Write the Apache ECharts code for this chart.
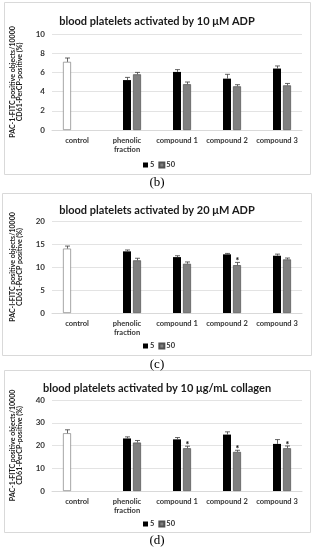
<!DOCTYPE html>
<html>
<head>
<meta charset="utf-8">
<script src="https://cdn.jsdelivr.net/npm/echarts@6/dist/echarts.min.js"></script>
<style>
html,body{margin:0;padding:0;background:#fff;}
#chart{width:314px;height:550px;}
</style>
</head>
<body>
<div id="chart"></div>
<script>
// ---------- data ----------
const categories = ['control', 'phenolic\nfraction', 'compound 1', 'compound 2', 'compound 3'];
const seriesNames = ['control', '5', '50'];

// panel (b): 10 µM ADP
const bTitle = 'blood platelets activated by 10 \u03bcM ADP';
const bYName = 'PAC-1-FITC positive objects/10000\nCD61-PerCP-positive (%)';
const bTicks = [0, 10, 2];
const bControl = [7.1, null, null, null, null];
const bControlErr = [0.4, null, null, null, null];
const bDose5 = [null, 5.2, 6.05, 5.35, 6.4];
const bDose5Err = [null, 0.28, 0.24, 0.45, 0.27];
const bDose50 = [null, 5.8, 4.77, 4.55, 4.65];
const bDose50Err = [null, 0.2, 0.23, 0.17, 0.2];
const bStars50 = [0, 0, 0, 0, 0];

// panel (c): 20 µM ADP
const cTitle = 'blood platelets activated by 20 \u03bcM ADP';
const cYName = 'PAC-I-FITC positive objects/10000\nCD61-PerCP positive (%)';
const cTicks = [0, 20, 5];
const cControl = [14.0, null, null, null, null];
const cControlErr = [0.55, null, null, null, null];
const cDose5 = [null, 13.4, 12.15, 12.75, 12.45];
const cDose5Err = [null, 0.3, 0.3, 0.2, 0.35];
const cDose50 = [null, 11.45, 10.7, 10.4, 11.65];
const cDose50Err = [null, 0.45, 0.4, 0.6, 0.3];
const cStars50 = [0, 0, 0, 1, 0];

// panel (d): 10 µg/mL collagen
const dTitle = 'blood platelets activated by 10 \u03bcg/mL collagen';
const dYName = 'PAC-1-FITC positive objects/10000\nCD61-PerCP-positive (%)';
const dTicks = [0, 40, 10];
const dControl = [25.4, null, null, null, null];
const dControlErr = [1.5, null, null, null, null];
const dDose5 = [null, 23.1, 22.7, 24.8, 20.7];
const dDose5Err = [null, 0.7, 0.8, 1.2, 1.9];
const dDose50 = [null, 21.3, 18.8, 17.2, 18.8];
const dDose50Err = [null, 0.9, 0.9, 0.7, 1.0];
const dStars50 = [0, 0, 1, 1, 1];

const panelLabels = ['(b)', '(c)', '(d)'];

// ---------- styling / layout ----------
const FONT = 'Lato, "Open Sans", sans-serif';
const panels = [
  {title: bTitle, yName: bYName, ticks: bTicks, vals: [bControl, bDose5, bDose50], errs: [bControlErr, bDose5Err, bDose50Err], stars: bStars50,
   box: [4, 2, 306, 172], titleTop: 11, gridTop: 34, gridH: 96, legendTop: 161, labelY: 183},
  {title: cTitle, yName: cYName, ticks: cTicks, vals: [cControl, cDose5, cDose50], errs: [cControlErr, cDose5Err, cDose50Err], stars: cStars50,
   box: [2, 193, 309, 162], titleTop: 200, gridTop: 221, gridH: 92, legendTop: 342, labelY: 365},
  {title: dTitle, yName: dYName, ticks: dTicks, vals: [dControl, dDose5, dDose50], errs: [dControlErr, dDose5Err, dDose50Err], stars: dStars50,
   box: [4, 370, 306, 162], titleTop: 378, gridTop: 400, gridH: 91, legendTop: 520, labelY: 541}
];
const barColors = ['#ffffff', '#000000', '#808080'];
const barBorders = ['#7f7f7f', '#000000', '#505050'];
const BAR_W = 8, BAR_GAP_PX = 2;
const slotOffsets = [-(BAR_W + BAR_GAP_PX), 0, (BAR_W + BAR_GAP_PX)];

const option = {
  animation: false,
  backgroundColor: '#ffffff',
  title: [], grid: [], xAxis: [], yAxis: [], legend: [], series: [], graphic: []
};

panels.forEach((p, k) => {
  option.graphic.push({type: 'rect', shape: {x: p.box[0] + 0.5, y: p.box[1] + 0.5, width: p.box[2], height: p.box[3]},
    style: {fill: 'none', stroke: '#d9d9d9', lineWidth: 1}, silent: true, z: -1});
  option.graphic.push({type: 'text', x: 157, y: p.labelY,
    style: {text: panelLabels[k], fill: '#000', font: '13px "Liberation Serif", "DejaVu Serif", serif', textAlign: 'center', textVerticalAlign: 'middle'}});
  option.title.push({text: p.title, left: 'center', top: p.titleTop,
    textStyle: {fontFamily: FONT, fontWeight: 'bold', fontSize: 11, color: '#1a1a1a'}});
  option.grid.push({left: 52, right: 12, top: p.gridTop, height: p.gridH});
  option.xAxis.push({type: 'category', gridIndex: k, data: categories,
    axisLine: {lineStyle: {color: '#d9d9d9'}}, axisTick: {show: false},
    axisLabel: {interval: 0, margin: 6, fontFamily: FONT, fontWeight: 'bold', fontSize: 7.5, color: '#333333', lineHeight: 9}});
  option.yAxis.push({type: 'value', gridIndex: k, min: p.ticks[0], max: p.ticks[1], interval: p.ticks[2],
    name: p.yName, nameLocation: 'middle', nameGap: 29, nameRotate: 90, nameMoveOverlap: false,
    nameTextStyle: {fontFamily: FONT, fontWeight: 'bold', fontSize: 7, color: '#1a1a1a', lineHeight: 7},
    axisLine: {show: false}, axisTick: {show: false},
    splitLine: {lineStyle: {color: '#e3e3e3', width: 1}},
    axisLabel: {margin: 7, fontFamily: FONT, fontWeight: 'bold', fontSize: 8, color: '#333333'}});
  option.legend.push({data: ['5', '50'], left: 143, top: p.legendTop, itemWidth: 5, itemHeight: 5, itemGap: 4,
    icon: 'rect', padding: 0,
    textStyle: {fontFamily: FONT, fontWeight: 'bold', fontSize: 7.5, color: '#333333', padding: [0, 0, 0, -3]}});

  p.vals.forEach((vals, s) => {
    option.series.push({
      type: 'bar', name: seriesNames[s], xAxisIndex: k, yAxisIndex: k, data: vals,
      barWidth: BAR_W, barGap: (BAR_GAP_PX / BAR_W * 100) + '%',
      itemStyle: {color: barColors[s], borderColor: barBorders[s], borderWidth: s === 1 ? 0 : 0.7},
      silent: true
    });
  });
  p.vals.forEach((vals, s) => {
    const data = [];
    vals.forEach((v, i) => {
      if (v != null) data.push([i, v, p.errs[s][i], s === 2 ? p.stars[i] : 0]);
    });
    const off = slotOffsets[s];
    option.series.push({
      type: 'custom', name: 'err' + s, xAxisIndex: k, yAxisIndex: k, data: data, z: 5, silent: true,
      renderItem: function (params, api) {
        const i = api.value(0), v = api.value(1), e = api.value(2), star = api.value(3);
        const base = api.coord([i, v]);
        const top = api.coord([i, v + e]);
        const x = Math.round(base[0] + off) + 0.5;
        const children = [
          {type: 'line', shape: {x1: x, y1: base[1], x2: x, y2: top[1]}, style: {stroke: '#404040', lineWidth: 0.8}},
          {type: 'line', shape: {x1: x - 2.5, y1: top[1], x2: x + 2.5, y2: top[1]}, style: {stroke: '#404040', lineWidth: 0.8}}
        ];
        if (star) {
          children.push({type: 'text', x: x, y: top[1] - 1,
            style: {text: '*', fill: '#000', font: 'bold 9px ' + FONT, textAlign: 'center', textVerticalAlign: 'middle'}});
        }
        return {type: 'group', children: children};
      }
    });
  });
});

const chart = echarts.init(document.getElementById('chart'), null, {renderer: 'canvas'});
chart.setOption(option);
</script>
</body>
</html>
